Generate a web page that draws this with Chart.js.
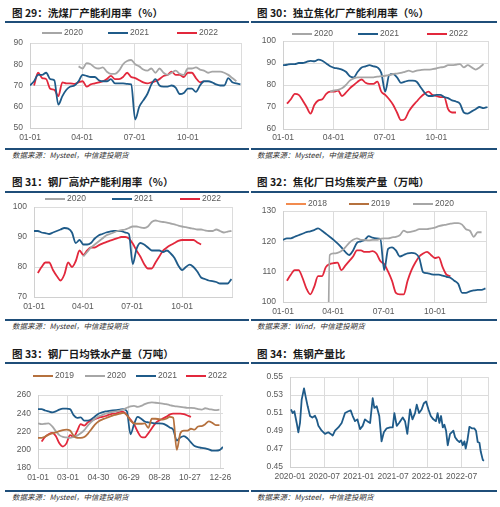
<!DOCTYPE html>
<html>
<head>
<meta charset="utf-8">
<script src="https://cdn.jsdelivr.net/npm/chart.js@4.4.0/dist/chart.umd.min.js"></script>
<style>
body { margin: 0; background: #fff; width: 500px; height: 507px; position: relative; overflow: hidden; font-family: "Noto Sans CJK SC", sans-serif; }
.title { position: absolute; font-size: 10.5px; font-weight: bold; color: #1a1a1a; white-space: nowrap; line-height: 14px; }
.src { position: absolute; font-size: 7.5px; font-style: italic; color: #333; white-space: nowrap; line-height: 10px; }
.rule { position: absolute; height: 2px; background: #1f4e79; }
canvas { position: absolute; }
</style>
</head>
<body>
<div class="title" style="left:12px;top:6px">图 29：洗煤厂产能利用率（%）</div>
<div class="title" style="left:257px;top:6px">图 30：独立焦化厂产能利用率（%）</div>
<div class="rule" style="left:5px;top:21px;width:244px"></div>
<div class="rule" style="left:251px;top:21px;width:246px"></div>
<canvas id="c29" width="250" height="123" style="left:0;top:24px"></canvas>
<canvas id="c30" width="250" height="123" style="left:250px;top:24px"></canvas>
<div class="rule" style="left:5px;top:148px;width:244px"></div>
<div class="rule" style="left:251px;top:148px;width:246px"></div>
<div class="src" style="left:12px;top:150px">数据来源：Mysteel，中信建投期货</div>
<div class="src" style="left:257px;top:150px">数据来源：Mysteel，中信建投期货</div>

<div class="title" style="left:12px;top:175px">图 31：钢厂高炉产能利用率（%）</div>
<div class="title" style="left:257px;top:175px">图 32：焦化厂日均焦炭产量（万吨）</div>
<div class="rule" style="left:5px;top:191px;width:244px"></div>
<div class="rule" style="left:251px;top:191px;width:246px"></div>
<canvas id="c31" width="250" height="124" style="left:0;top:194px"></canvas>
<canvas id="c32" width="250" height="124" style="left:250px;top:194px"></canvas>
<div class="rule" style="left:5px;top:319px;width:244px"></div>
<div class="rule" style="left:251px;top:319px;width:246px"></div>
<div class="src" style="left:12px;top:321px">数据来源：Mysteel，中信建投期货</div>
<div class="src" style="left:257px;top:321px">数据来源：Wind，中信建投期货</div>

<div class="title" style="left:12px;top:347px">图 33：钢厂日均铁水产量（万吨）</div>
<div class="title" style="left:257px;top:347px">图 34：焦钢产量比</div>
<div class="rule" style="left:5px;top:362px;width:244px"></div>
<div class="rule" style="left:251px;top:362px;width:246px"></div>
<canvas id="c33" width="250" height="124" style="left:0;top:365px"></canvas>
<canvas id="c34" width="250" height="124" style="left:250px;top:365px"></canvas>
<div class="rule" style="left:5px;top:490px;width:244px"></div>
<div class="rule" style="left:251px;top:490px;width:246px"></div>
<div class="src" style="left:12px;top:492px">数据来源：Mysteel，中信建投期货</div>
<div class="src" style="left:257px;top:492px">数据来源：Mysteel，中信建投期货</div>

<script>
// weekly series, index = week of year (week 0 = 01-01)
// fig 29 washing coal plant utilisation
const coal2020Start = 12;
const coal2020 = [79, 78, 80.5, 80, 78.5, 78, 78.5, 76.5, 75.5, 75.5, 77, 80, 81.5, 82, 80, 79, 77.5, 77, 78, 76, 78, 76, 75, 76, 77, 75.5, 75, 78, 78, 78.5, 77.5, 77, 76, 76.5, 76.5, 76.5, 76, 75, 73.5, 72];
const coal2021 = [70, 72, 75, 75, 76, 73, 72.5, 61, 65, 68, 69.5, 70, 72, 75, 74.5, 74, 74, 72.5, 72, 72, 73, 71, 71, 71, 70.8, 70.5, 54, 60, 63, 66, 70.5, 73, 70, 69.5, 69.5, 70, 69, 66, 66.5, 68.5, 68.5, 67, 70, 72, 72, 71.5, 70.5, 70, 70, 73.5, 71.5, 71, 70.5];
const coal2022Start = 1;
const coal2022 = [70, 76, 73.5, 73, 68.5, 68, 65, 71.5, 71, 71, 70.8, 71.5, 72, 69.5, 70.5, 71, 71.5, 72, 73, 74.5, 73, 73, 74, 76, 74, 73.5, 72.5, 71.5, 71, 71.5, 72, 73, 74.5, 75, 76.5, 75, 75, 74, 76, 76, 73.5, 71.5, 72];

// fig 30 independent coking plant utilisation
const coke2020Start = 12;
const coke2020 = [77, 77.5, 77.8, 78.5, 80, 82, 83, 83.5, 83.5, 83.5, 83.5, 83.5, 83.8, 84, 84.2, 84.5, 85, 85.2, 85.5, 86, 86.5, 86, 86.5, 86.8, 87, 87, 87.2, 87.5, 88, 88.2, 89, 89, 89.2, 89.5, 88, 89, 88, 87, 88, 89.5];
const coke2021 = [89, 89.2, 89.5, 89.5, 90, 90, 90.5, 91, 90.8, 91.5, 91, 89.8, 88.5, 87.8, 87.5, 87, 86, 84, 83.5, 86, 88, 88.5, 89, 88.5, 88, 85.5, 77, 84.5, 85, 83.5, 81, 81.5, 82, 82, 81.5, 79, 76.5, 75, 75, 75.5, 75.5, 74.5, 74, 73, 72.5, 71.5, 67.5, 67, 68, 69, 70, 69.5, 70];
const coke2022Start = 1;
const coke2022 = [71.5, 73.5, 76, 75.5, 73, 70, 67, 71, 73, 73.5, 76, 77, 77, 77.5, 75, 76.5, 78.5, 80, 81.5, 82.5, 81, 80.5, 80.5, 81.5, 77, 75.5, 73.5, 71, 67.5, 64, 64.5, 68, 70.5, 72.5, 74.5, 76, 77, 75.5, 75, 74.5, 74.5, 69, 67.5, 67.5];

// fig 31 blast furnace utilisation
const bf2020Start = 13;
const bf2020 = [83.5, 85, 86.5, 87.5, 88.5, 89.5, 90.5, 91, 91.5, 92, 92.3, 92.5, 93, 93.5, 93.5, 93.2, 93, 93.5, 95, 95.5, 95.2, 95, 94.8, 94.5, 94.2, 93.8, 93.5, 93.3, 93, 92.8, 92.5, 92.5, 92.2, 92, 92, 92.5, 92, 91.5, 91.8, 92];
const bf2021 = [92, 92, 91.5, 91.3, 91, 91.5, 92, 92.5, 93, 92.8, 91.5, 88, 89, 87.5, 87.5, 88, 89.5, 90.5, 91, 91.5, 91.8, 92, 92, 92, 91.5, 91, 81, 86, 88, 87.5, 86.5, 85.5, 85.5, 85.5, 85, 85.5, 84.5, 83, 80.5, 79, 80, 80.8, 80, 78.5, 76.5, 76, 75.5, 75.3, 75, 74.5, 74.5, 74.5, 76];
const bf2022Start = 1;
const bf2022 = [78, 80, 81.5, 81.5, 79, 77, 75.5, 77.5, 81.5, 80, 82, 85.5, 84, 85.5, 86.5, 86.5, 87.2, 87.8, 88.3, 88.8, 89.2, 89.6, 90, 90, 89.5, 87.8, 85.5, 83.5, 81, 79.5, 79.5, 81.5, 83.5, 85.5, 86.5, 87.3, 88, 88.7, 89, 89, 89, 89, 88.2, 87.5];

// fig 32 coke daily output (2018 / 2019 fall outside the visible range)
const ck2018 = [];
const ck2019 = [];
const ck2020Start = 11;
const ck2020 = [0, 115.5, 116, 116.2, 116.8, 118, 119.5, 120.5, 121, 120.5, 120.5, 120.3, 120.5, 120.5, 120.8, 121, 121, 121.3, 121.5, 122, 123.5, 123, 123.2, 123.5, 124, 124, 124, 124.3, 124.5, 125, 125.3, 125.5, 125.8, 126, 126, 125.5, 124, 123.5, 121.5, 123, 123];
const ck2021 = [120.5, 121, 121, 121.5, 122, 122.5, 123, 123.3, 123.7, 124.3, 123.5, 122.5, 121.5, 120.5, 119.3, 118, 116.5, 115.5, 117, 119.5, 120, 120.5, 121.7, 121.2, 121, 120.8, 110.5, 117.5, 118, 117, 115, 115.5, 116, 116.2, 116, 114.5, 109.8, 109.5, 109.2, 109, 109, 108.7, 108.3, 108, 107, 106, 103, 103, 103.5, 103.8, 104, 104, 104.5];
const ck2022Start = 1;
const ck2022 = [107, 109, 110.5, 110.5, 108, 104.5, 102.5, 105, 108.5, 108.5, 111.5, 112.5, 112.8, 113, 110.5, 112, 113.5, 115, 117, 117, 116.5, 116.5, 116.8, 116, 113.5, 112.5, 110, 107, 103, 102.5, 102.5, 107, 110.5, 113, 115, 116, 116.5, 115.5, 114.5, 114.8, 111.5, 109, 108.5];

// fig 33 hot metal daily output
const hm2019 = [213, 213, 214.5, 216.5, 218, 219, 220.5, 221.5, 222, 221, 215.5, 213, 213, 214, 217.5, 222.5, 227.5, 231, 233, 234.5, 236, 237.5, 238.5, 239.5, 240.5, 238, 232, 229, 228.5, 228.5, 229, 224, 234, 234, 233.5, 233, 234, 236, 235, 200, 218, 221, 221, 223, 222, 225.5, 226, 228, 231, 229.5, 227, 227];
const hm2020 = [229, 228, 228.5, 229, 225.5, 220.5, 216, 214, 213.5, 213, 214, 215.5, 218, 221.5, 226.5, 230.5, 234, 236.5, 238, 239.5, 240.5, 241.5, 242, 243, 244, 246, 247.5, 248, 247, 248, 250, 251.5, 252, 251.5, 251, 250.5, 250, 249, 248, 247.5, 247, 246.5, 246, 246, 245.5, 244.5, 244, 245.5, 244.5, 244, 243.5, 244];
const hm2021 = [244.5, 244.5, 243, 242, 241, 242, 244, 245, 245, 244.5, 238, 235, 235.5, 232, 232, 233.5, 236.5, 239.5, 241, 242, 242.5, 243, 243.5, 244, 244.5, 242, 217, 228, 236, 234, 231, 230, 229.5, 229, 229, 228.5, 227, 224.5, 222, 210, 213.5, 215, 212.5, 208, 204, 203, 202, 201.5, 200.5, 199, 199, 199.5, 203];
const hm2022Start = 1;
const hm2022 = [209, 214, 217, 218.5, 215, 207, 203.5, 207, 216, 214, 220.5, 228, 226.5, 230, 232, 233.5, 235, 236, 237, 238.5, 239.5, 240, 241.5, 241.5, 238, 233, 228, 220, 214, 213.5, 218, 223.5, 229, 232, 234, 236, 238.5, 239.5, 239.5, 239.5, 239, 237.5, 236];

// fig 34 coke / steel output ratio, x = months since 2020-01
const ratioMonths = [0.17, 0.47, 0.76, 1.17, 1.46, 1.75, 2.04, 2.45, 2.74, 3.09, 3.5, 3.9, 4.37, 4.66, 4.96, 5.54, 6.12, 6.7, 7.11, 7.46, 7.87, 8.45, 9.03, 9.62, 10.2, 10.6, 10.96, 11.36, 11.77, 12.24, 12.7, 13.1, 13.5, 14.0, 14.45, 14.74, 15.15, 15.6, 16.0, 16.4, 16.9, 17.5, 17.95, 18.24, 18.65, 19.06, 19.7, 20.1, 20.5, 20.98, 21.4, 21.85, 22.15, 22.55, 23.0, 23.4, 23.78, 24.2, 24.6, 25.05, 25.5, 25.8, 26.1, 26.4, 26.7, 26.98, 27.27, 27.56, 27.97, 28.26, 28.55, 28.85, 29.25, 29.6, 29.9, 30.19, 30.48, 30.7, 31.0, 31.35, 31.77, 32.2, 32.5, 32.8, 33.1, 33.34, 33.69, 33.9];
const ratioValues = [0.514, 0.510, 0.512, 0.499, 0.4886, 0.499, 0.525, 0.5374, 0.528, 0.5175, 0.5067, 0.505, 0.507, 0.503, 0.4958, 0.4904, 0.4868, 0.4886, 0.4868, 0.485, 0.4904, 0.494, 0.499, 0.510, 0.512, 0.513, 0.5067, 0.501, 0.503, 0.4922, 0.4958, 0.503, 0.501, 0.499, 0.5265, 0.5157, 0.5175, 0.5067, 0.4785, 0.4886, 0.493, 0.494, 0.494, 0.510, 0.4958, 0.499, 0.505, 0.501, 0.4868, 0.514, 0.503, 0.510, 0.5193, 0.510, 0.514, 0.521, 0.5229, 0.514, 0.5067, 0.503, 0.501, 0.510, 0.499, 0.5067, 0.494, 0.497, 0.4904, 0.4742, 0.4868, 0.4886, 0.4904, 0.4832, 0.4796, 0.4778, 0.4796, 0.4742, 0.4785, 0.4706, 0.4796, 0.4947, 0.493, 0.493, 0.4904, 0.4778, 0.477, 0.4669, 0.4579, 0.457];

const quarterTicks = [0, 90, 181, 273, 365];
const quarterLabels = ['01-01', '04-01', '07-01', '10-01', ''];
const hmTicks = [0, 59, 119, 179, 239, 299, 359];
const hmLabels = ['01-01', '03-01', '04-30', '06-29', '08-28', '10-27', '12-26'];
const ratioTicks = [0, 6, 12, 18, 24, 30, 34.6];
const ratioLabels = ['2020-01', '2020-07', '2021-01', '2021-07', '2022-01', '2022-07', ''];

const GRAY = '#a6a6a6', BLUE = '#1f5b89', RED = '#e2283c', BROWN = '#b5713e', ORANGE = '#f28b4f';

Chart.defaults.font.family = '"Liberation Sans", Arial, sans-serif';
Chart.defaults.font.size = 8.5;
Chart.defaults.color = '#595959';
Chart.defaults.animation = false;

// small line-style legend like the excel originals
const lineLegend = {
    id: 'lineLegend',
    afterDraw(chart, args, opts) {
        if (!opts.labels) return;
        const ctx = chart.ctx;
        ctx.save();
        ctx.font = '8.5px "Liberation Sans", Arial, sans-serif';
        ctx.textBaseline = 'middle';
        opts.labels.forEach((lab, i) => {
            const ds = chart.data.datasets.find(d => d.label === lab);
            const x = opts.xs[i];
            ctx.strokeStyle = ds.borderColor;
            ctx.lineWidth = 2;
            ctx.beginPath();
            ctx.moveTo(x, opts.y);
            ctx.lineTo(x + 20, opts.y);
            ctx.stroke();
            ctx.fillStyle = '#595959';
            ctx.fillText(lab, x + 22, opts.y);
        });
        ctx.restore();
    }
};
Chart.register(lineLegend);

function weekly(values, start) {
    return values.map((v, i) => ({ x: (start + i) * 7, y: v }));
}

function drawChart(id, cfg) {
    new Chart(document.getElementById(id), {
        type: 'line',
        data: {
            datasets: cfg.series.map(s => ({
                label: s.label,
                data: s.data,
                borderColor: s.color,
                backgroundColor: s.color,
                borderWidth: 1.8,
                pointRadius: 0,
                tension: cfg.smooth ? 0.4 : 0,
                cubicInterpolationMode: cfg.smooth ? 'monotone' : 'default',
                borderJoinStyle: 'round'
            }))
        },
        options: {
            responsive: false,
            layout: { padding: { left: 0, right: cfg.padR, top: cfg.padT, bottom: 0 } },
            plugins: {
                legend: { display: false },
                tooltip: { enabled: false },
                lineLegend: cfg.legend || {}
            },
            scales: {
                x: {
                    type: 'linear',
                    min: cfg.xMin,
                    max: cfg.xMax,
                    afterBuildTicks: axis => { axis.ticks = cfg.xTicks.map(v => ({ value: v })); },
                    afterFit: axis => { axis.height = cfg.xH; },
                    ticks: {
                        autoSkip: false,
                        maxRotation: 0,
                        padding: cfg.xPad,
                        callback: (v, i) => cfg.xLabels[i]
                    },
                    grid: { color: '#dcdcdc', drawTicks: false },
                    border: { color: '#d0d0d0' }
                },
                y: {
                    min: cfg.yMin,
                    max: cfg.yMax,
                    afterFit: axis => { axis.width = cfg.left; },
                    ticks: {
                        stepSize: cfg.yStep,
                        padding: 7,
                        callback: cfg.yFmt || (v => v)
                    },
                    grid: { color: '#dcdcdc', drawTicks: false },
                    border: { color: '#d0d0d0' }
                }
            }
        }
    });
}

drawChart('c29', {
    series: [
        { label: '2020', color: GRAY, data: weekly(coal2020, coal2020Start) },
        { label: '2021', color: BLUE, data: weekly(coal2021, 0) },
        { label: '2022', color: RED, data: weekly(coal2022, coal2022Start) }
    ],
    smooth: true, left: 30, padR: 9, padT: 19, xH: 19, xPad: 5,
    xMin: 0, xMax: 365, xTicks: quarterTicks, xLabels: quarterLabels,
    yMin: 50, yMax: 90, yStep: 10,
    legend: { labels: ['2020', '2021', '2022'], xs: [42, 108, 177], y: 9 }
});

drawChart('c30', {
    series: [
        { label: '2020', color: GRAY, data: weekly(coke2020, coke2020Start) },
        { label: '2021', color: BLUE, data: weekly(coke2021, 0) },
        { label: '2022', color: RED, data: weekly(coke2022, coke2022Start) }
    ],
    smooth: true, left: 33, padR: 12, padT: 17, xH: 18, xPad: 4,
    xMin: 0, xMax: 365, xTicks: quarterTicks, xLabels: quarterLabels,
    yMin: 60, yMax: 100, yStep: 10,
    legend: { labels: ['2020', '2021', '2022'], xs: [42, 108, 177], y: 10 }
});

drawChart('c31', {
    series: [
        { label: '2020', color: GRAY, data: weekly(bf2020, bf2020Start) },
        { label: '2021', color: BLUE, data: weekly(bf2021, 0) },
        { label: '2022', color: RED, data: weekly(bf2022, bf2022Start) }
    ],
    smooth: true, left: 34, padR: 18, padT: 13, xH: 21, xPad: 5,
    xMin: 0, xMax: 365, xTicks: quarterTicks, xLabels: quarterLabels,
    yMin: 70, yMax: 100, yStep: 10,
    legend: { labels: ['2020', '2021', '2022'], xs: [45, 112, 180], y: 5 }
});

drawChart('c32', {
    series: [
        { label: '2018', color: ORANGE, data: weekly(ck2018, 0) },
        { label: '2019', color: BROWN, data: weekly(ck2019, 0) },
        { label: '2020', color: GRAY, data: weekly(ck2020, ck2020Start) },
        { label: '2021', color: BLUE, data: weekly(ck2021, 0) },
        { label: '2022', color: RED, data: weekly(ck2022, ck2022Start) }
    ],
    smooth: true, left: 33, padR: 14, padT: 17, xH: 16, xPad: 5,
    xMin: 0, xMax: 365, xTicks: quarterTicks, xLabels: quarterLabels,
    yMin: 100, yMax: 130, yStep: 10,
    legend: { labels: ['2018', '2019', '2020'], xs: [36, 99, 163], y: 10 }
});

drawChart('c33', {
    series: [
        { label: '2019', color: BROWN, data: weekly(hm2019, 0) },
        { label: '2020', color: GRAY, data: weekly(hm2020, 0) },
        { label: '2021', color: BLUE, data: weekly(hm2021, 0) },
        { label: '2022', color: RED, data: weekly(hm2022, hm2022Start) }
    ],
    smooth: true, left: 38, padR: 27, padT: 30, xH: 21, xPad: 5,
    xMin: 0, xMax: 364, xTicks: hmTicks, xLabels: hmLabels,
    yMin: 180, yMax: 260, yStep: 20,
    legend: { labels: ['2019', '2020', '2021', '2022'], xs: [33, 85, 136, 186], y: 11 }
});

drawChart('c34', {
    series: [
        { label: '焦钢产量比', color: BLUE, data: ratioMonths.map((m, i) => ({ x: m, y: ratioValues[i] })) }
    ],
    smooth: false, left: 40, padR: 12, padT: 10, xH: 22, xPad: 5,
    xMin: 0, xMax: 34.6, xTicks: ratioTicks, xLabels: ratioLabels,
    yMin: 0.45, yMax: 0.55, yStep: 0.02,
    yFmt: v => v.toFixed(2)
});
</script>
</body>
</html>
